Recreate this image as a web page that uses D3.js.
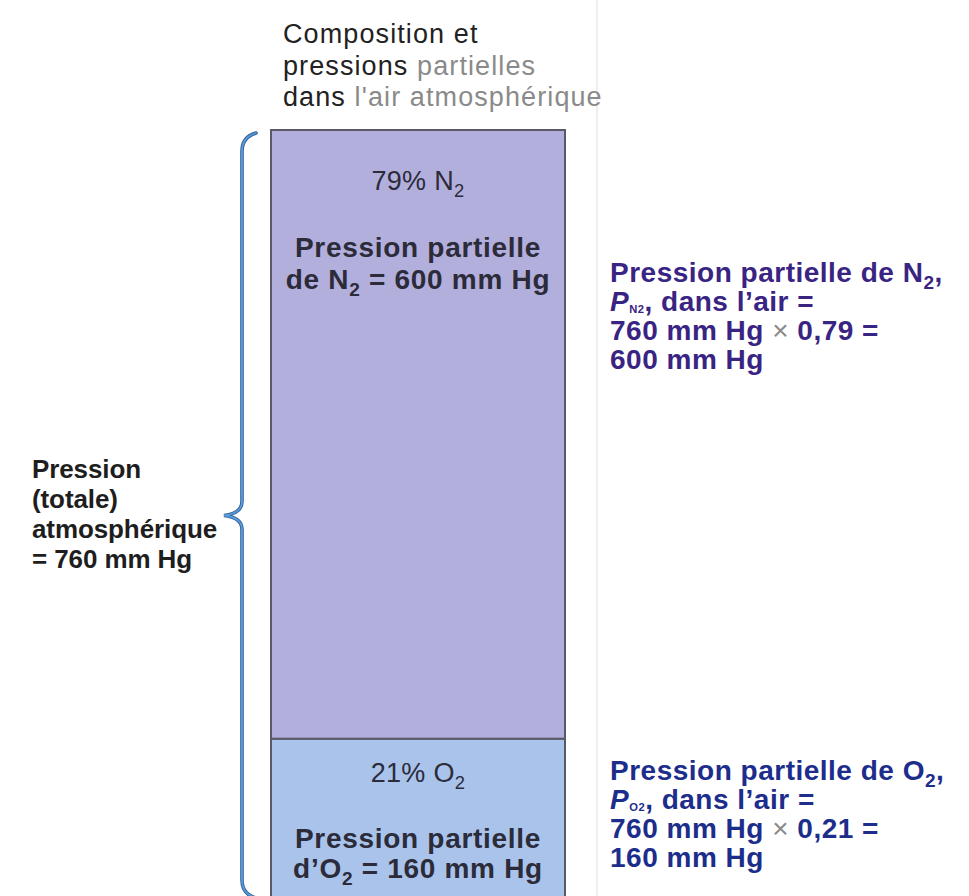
<!DOCTYPE html>
<html><head><meta charset="utf-8">
<script src="https://cdn.jsdelivr.net/npm/d3@7"></script>
<style>html,body{margin:0;padding:0;background:#fff;}svg{display:block;}</style>
</head><body>
<script>
// ---- data ----
const gases = ["O2", "N2"];            // stacked bottom -> top
const gasLabels = {O2: "O", N2: "N"};
const percents = [21, 79];
const pressures = [160, 600];           // mm Hg
const totalPressure = 760;
const fractions = ["0,21", "0,79"];
const colors = {O2: "#aac3ea", N2: "#b3afdc"};
const textColors = {O2: "#1d2d8c", N2: "#3a2483"};

const W = 969, H = 896;
const svg = d3.select("body").append("svg").attr("width", W).attr("height", H)
  .style("font-family", "'Liberation Sans', Arial, Helvetica, sans-serif");

const y = d3.scaleLinear().domain([0, totalPressure]).range([901, 130]);
const x = d3.scaleBand().domain(["air"]).range([271, 565]).padding(0);

// faint separator line
svg.append("line").attr("x1", 597).attr("x2", 597).attr("y1", 0).attr("y2", H)
  .attr("stroke", "#efefef").attr("stroke-width", 2);

// stack
let acc = 0;
const segs = gases.map((g, i) => { const s = {g, i, y0: acc, y1: acc + pressures[i]}; acc += pressures[i]; return s; });

svg.selectAll("rect.seg").data(segs).join("rect").attr("class", "seg")
  .attr("x", x("air")).attr("width", x.bandwidth())
  .attr("y", d => y(d.y1)).attr("height", d => y(d.y0) - y(d.y1))
  .attr("fill", d => colors[d.g]).attr("stroke", "#5a5a66").attr("stroke-width", 2);

// rich text helper: parts = [[text, flags]], flags: s=sub, i=italic, g=gray, t=tiny sub
function rich(parent, xx, yy, parts, opts) {
  const t = parent.append("text").attr("x", xx).attr("y", yy)
    .attr("font-size", opts.size).attr("font-weight", opts.weight || "normal")
    .attr("fill", opts.fill || "#222").attr("text-anchor", opts.anchor || "start")
    .style("letter-spacing", (opts.ls || 0) + "px");
  let shifted = 0;
  parts.forEach(([str, f = ""]) => {
    const ts = t.append("tspan").text(str);
    const sub = f.includes("s") || f.includes("t");
    const want = sub ? (f.includes("t") ? 2 : 7) : 0;
    if (want !== shifted) { ts.attr("dy", want - shifted); shifted = want; }
    if (sub) ts.attr("font-size", f.includes("t") ? opts.size * 0.4 : opts.size * 0.68);
    if (f.includes("i")) ts.attr("font-style", "italic");
    if (f.includes("g")) ts.attr("fill", "#8a8a8a").attr("font-weight", "normal");
  });
  return t;
}

// title
const title = [
  [["Composition et"]],
  [["pressions "], ["partielles", "g"]],
  [["dans "], ["l'air atmosphérique", "g"]]
];
title.forEach((ln, k) => rich(svg, 283, 43 + k * 31.5, ln, {size: 27, fill: "#222", ls: 1.1}));

// bar labels (offsets from the top of each segment)
const cx = x("air") + x.bandwidth() / 2;
const labelOffsets = {N2: [60, 127, 159], O2: [43, 109, 139]};
segs.forEach(d => {
  const top = y(d.y1);
  const lab = gasLabels[d.g];
  const off = labelOffsets[d.g];
  rich(svg, cx, top + off[0], [[percents[d.i] + "% " + lab], ["2", "s"]],
       {size: 27, anchor: "middle", fill: "#2b2b3a", ls: 0.3});
  rich(svg, cx, top + off[1], [["Pression partielle"]],
       {size: 28, weight: "bold", anchor: "middle", fill: "#2b2b3a", ls: 0.7});
  const l2 = d.g === "N2"
    ? [["de N"], ["2", "s"], [" = " + pressures[d.i] + " mm Hg"]]
    : [["d’O"], ["2", "s"], [" = " + pressures[d.i] + " mm Hg"]];
  rich(svg, cx, top + off[2], l2, {size: 28, weight: "bold", anchor: "middle", fill: "#2b2b3a", ls: 0.7});
});

// right-side explanations
const rightTop = {N2: 282, O2: 780};
segs.forEach(d => {
  const lab = gasLabels[d.g];
  const y0 = rightTop[d.g];
  const o = {size: 28, weight: "bold", fill: textColors[d.g], ls: 0.5};
  const lines = [
    [["Pression partielle de " + lab], ["2", "s"], [","]],
    [["P", "i"], [lab + "2", "t"], [", dans l’air ="]],
    [[totalPressure + " mm Hg "], ["×", "g"], [" " + fractions[d.i] + " ="]],
    [[pressures[d.i] + " mm Hg"]]
  ];
  lines.forEach((ln, k) => rich(svg, 610, y0 + k * 29, ln, o));
});

// left label
const leftLines = ["Pression", "(totale)", "atmosphérique", "= " + totalPressure + " mm Hg"];
leftLines.forEach((s, k) => rich(svg, 32, 478 + k * 30, [[s]], {size: 26, weight: "bold", fill: "#1e1e1e", ls: -0.1}));

// brace
const yt = y(totalPressure) + 3, yb = y(0) - 3, ym = (yt + yb) / 2;
const bx = 242, tipX = 224, ex = 256;
const bracePath = `M${ex},${yt} Q${bx},${yt + 4} ${bx},${yt + 18} L${bx},${ym - 14} Q${bx},${ym - 2} ${tipX},${ym} Q${bx},${ym + 2} ${bx},${ym + 14} L${bx},${yb - 18} Q${bx},${yb - 4} ${ex},${yb}`;
svg.append("path").attr("d", bracePath).attr("fill", "none")
  .attr("stroke", "#2f5f9a").attr("stroke-width", 3.6).attr("stroke-linecap", "round");
svg.append("path").attr("d", bracePath).attr("fill", "none")
  .attr("stroke", "#5a9ad8").attr("stroke-width", 1.8).attr("stroke-linecap", "round");
</script>
</body></html>
